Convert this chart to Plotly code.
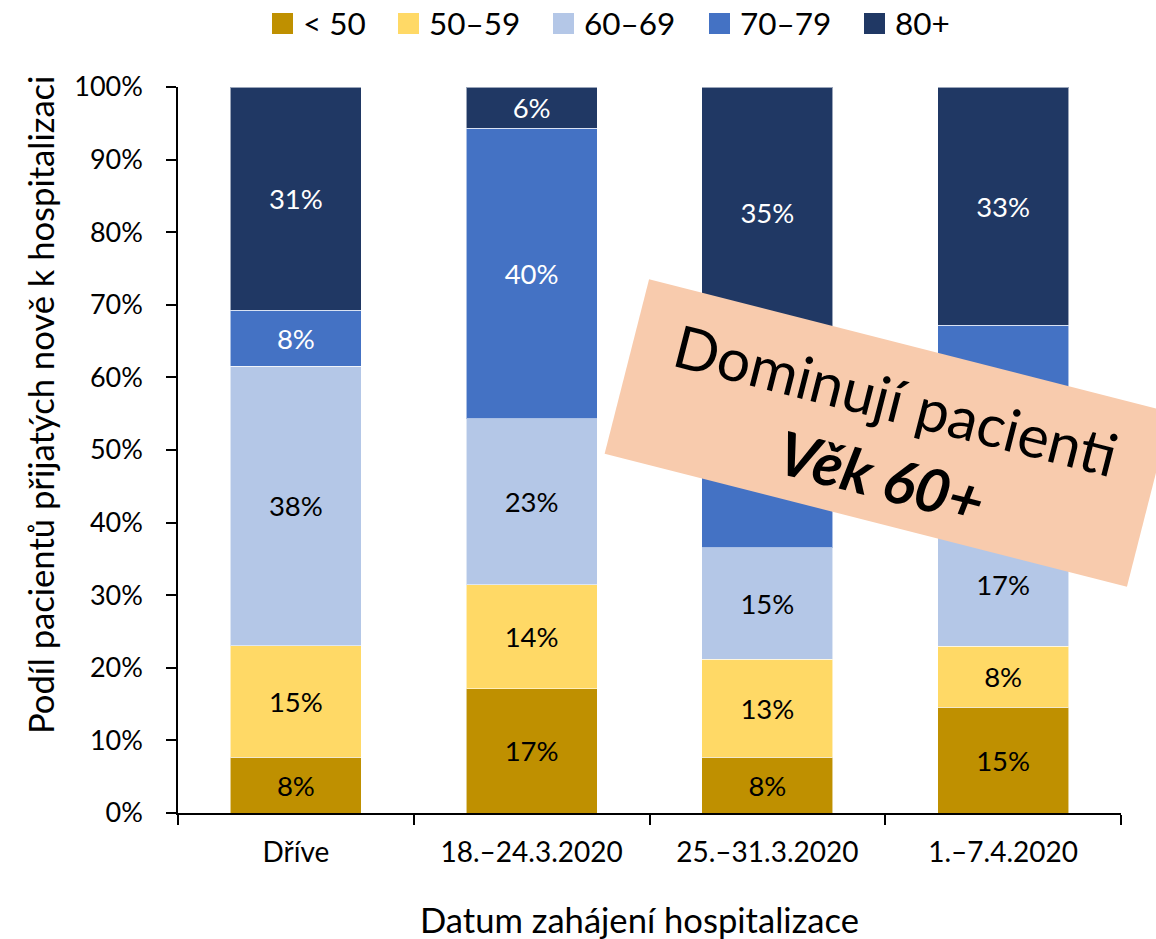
import math
import plotly.graph_objects as go

# ---------------- data ----------------
categories = ["Dříve", "18.–24.3.2020", "25.–31.3.2020", "1.–7.4.2020"]
series_names = ["< 50", "50–59", "60–69", "70–79", "80+"]
share_lt50 = [0.0769, 0.1714, 0.0769, 0.146]
share_50_59 = [0.1538, 0.1429, 0.1346, 0.084]
share_60_69 = [0.3846, 0.2286, 0.1538, 0.170]
share_70_79 = [0.0769, 0.4000, 0.2885, 0.272]
share_80p = [0.3077, 0.0571, 0.3462, 0.328]
y_tick_values = [0.0, 0.1, 0.2, 0.3, 0.4, 0.5, 0.6, 0.7, 0.8, 0.9, 1.0]

x_title = "Datum zahájení hospitalizace"
y_title = "Podíl pacientů přijatých nově k hospitalizaci"
callout_line1 = "Dominují pacienti"
callout_line2 = "<b><i>Věk 60+</i></b>"

# ---------------- style ----------------
series_values = [share_lt50, share_50_59, share_60_69, share_70_79, share_80p]
colors = ["#BF9000", "#FFD966", "#B4C7E7", "#4472C4", "#203864"]
text_colors = ["#000000", "#000000", "#000000", "#FFFFFF", "#FFFFFF"]
FONT = "Lato"

W, H = 1156, 939
L, R, T, B = 178, 35, 87, 126
PW, PH = W - L - R, H - T - B


def px(x):
    return (x - L) / PW


def py(y):
    return (H - B - y) / PH


fig = go.Figure()
for name, vals, col, tc in zip(series_names, series_values, colors, text_colors):
    fig.add_trace(go.Bar(
        x=categories, y=vals, name=name,
        marker=dict(color=col, line=dict(color="rgba(255,255,255,0.55)", width=1)),
        texttemplate="%{y:.0%}", textposition="inside", insidetextanchor="middle",
        textangle=0, constraintext="none",
        textfont=dict(family=FONT, size=27.5, color=tc),
        showlegend=False,
    ))

shapes = []
annotations = []

# custom legend (large square swatches)
legend_swatch_left = [272, 398, 553, 709, 864]
for left, name, col in zip(legend_swatch_left, series_names, colors):
    shapes.append(dict(type="rect", xref="paper", yref="paper",
                       x0=px(left), x1=px(left + 21), y0=py(34), y1=py(13),
                       fillcolor=col, line=dict(width=0), layer="above"))
    annotations.append(dict(xref="paper", yref="paper", x=px(left + 29), y=py(23),
                            xanchor="left", yanchor="middle", showarrow=False,
                            text=name, font=dict(family=FONT, size=31.5, color="#000000")))

# rotated call-out box
cx, cy, bw, bh, ang = 888, 433, 539, 180, 14.3
ux, uy = math.cos(math.radians(ang)), math.sin(math.radians(ang))
nx, ny = -uy, ux
corners = []
for su, sn in [(-1, -1), (1, -1), (1, 1), (-1, 1)]:
    corners.append((cx + su * ux * bw / 2 + sn * nx * bh / 2,
                    cy + su * uy * bw / 2 + sn * ny * bh / 2))
path = "M " + " L ".join(f"{px(a):.5f},{py(b):.5f}" for a, b in corners) + " Z"
shapes.append(dict(type="path", xref="paper", yref="paper", path=path,
                   fillcolor="#F8CBAD", line=dict(width=0), layer="above"))
annotations.append(dict(xref="paper", yref="paper", x=px(896), y=py(399),
                        xanchor="center", yanchor="middle", showarrow=False,
                        text=callout_line1, textangle=ang,
                        font=dict(family=FONT, size=59, color="#000000")))
annotations.append(dict(xref="paper", yref="paper", x=px(882), y=py(476),
                        xanchor="center", yanchor="middle", showarrow=False,
                        text=callout_line2, textangle=ang,
                        font=dict(family=FONT, size=60, color="#000000")))

# axis titles
annotations.append(dict(xref="paper", yref="paper", x=px(639), y=py(919),
                        xanchor="center", yanchor="middle", showarrow=False,
                        text=x_title, font=dict(family=FONT, size=34.6, color="#000000")))
annotations.append(dict(xref="paper", yref="paper", x=px(40), y=py(405),
                        xanchor="center", yanchor="middle", showarrow=False,
                        text=y_title, textangle=-90,
                        font=dict(family=FONT, size=34.6, color="#000000")))

fig.update_layout(
    width=W, height=H,
    margin=dict(l=L, r=R, t=T, b=B, pad=0),
    paper_bgcolor="white", plot_bgcolor="white",
    barmode="stack", bargap=0.444,
    font=dict(family=FONT, color="#000000"),
    showlegend=False,
    shapes=shapes, annotations=annotations,
    xaxis=dict(
        range=[-0.5, 3.5], showgrid=False, zeroline=False,
        showline=True, linecolor="#000000", linewidth=1.5,
        ticks="outside", tickson="boundaries", ticklen=10, tickwidth=1.5, tickcolor="#000000",
        tickfont=dict(family=FONT, size=28, color="#000000"),
        ticklabelstandoff=14,
    ),
    yaxis=dict(
        range=[0, 1], tickvals=y_tick_values, tickformat=".0%",
        showgrid=False, zeroline=False,
        showline=True, linecolor="#000000", linewidth=1.5,
        ticks="outside", ticklen=10, tickwidth=1.5, tickcolor="#000000",
        tickfont=dict(family=FONT, size=27, color="#000000"),
        ticklabelstandoff=18,
    ),
)

fig.write_html("out.html", config={"displayModeBar": False},
               post_script="document.body.style.margin='0';document.body.style.overflow='hidden';")
